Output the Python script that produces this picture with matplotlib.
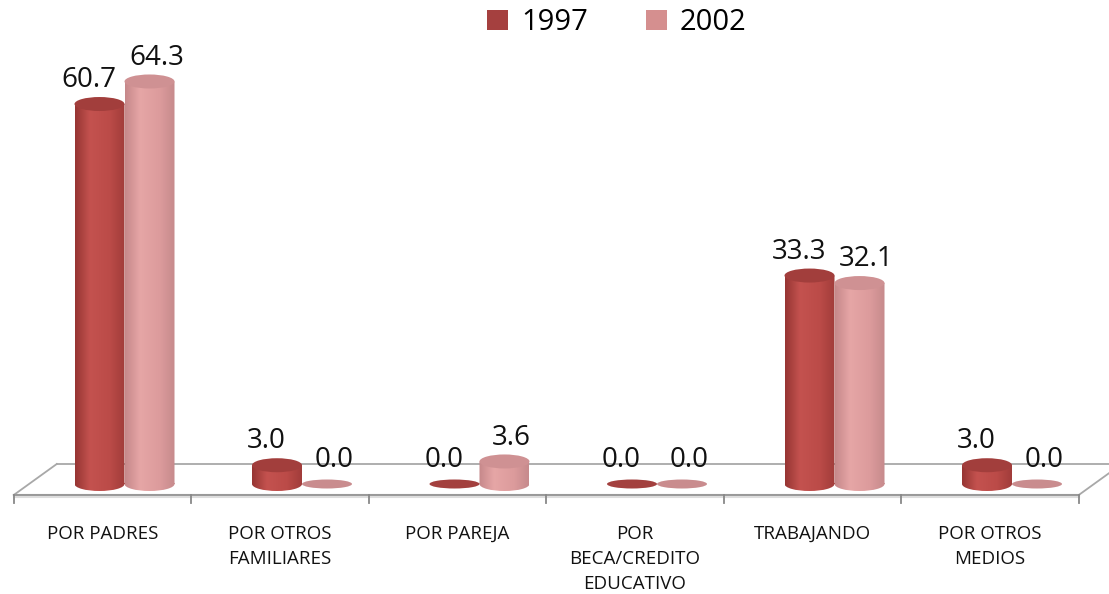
import numpy as np
import matplotlib
matplotlib.use('Agg')
import matplotlib.pyplot as plt
from matplotlib.patches import Ellipse, Rectangle, Polygon, Patch, PathPatch
from matplotlib.path import Path
from matplotlib.colors import to_rgb

plt.rcParams['font.family'] = ['Open Sans', 'DejaVu Sans']

# datos
categorias = ['POR PADRES', 'POR OTROS\nFAMILIARES', 'POR PAREJA',
              'POR\nBECA/CREDITO\nEDUCATIVO', 'TRABAJANDO', 'POR OTROS\nMEDIOS']
valores_1997 = [60.7, 3.0, 0.0, 0.0, 33.3, 3.0]
valores_2002 = [64.3, 0.0, 3.6, 0.0, 32.1, 0.0]
series = ['1997', '2002']

# colores del cilindro: borde izq, brillo, centro, borde der
col_1997 = ['#963533', '#c4524f', '#bb4b48', '#a13c3a']
col_2002 = ['#c5888a', '#e6a6a6', '#dc9b9c', '#c68a8c']
top_1997 = '#a23e3c'
top_2002 = '#cf9193'
cero_1997 = '#a3403e'
cero_2002 = '#c98c8e'
leg_1997 = '#a5403f'
leg_2002 = '#d58f8f'

W, H = 1109, 594
fig = plt.figure(figsize=(W / 100, H / 100), dpi=100)
ax = fig.add_axes([0, 0, 1, 1])
# eje: x en unidades de categoria, y en unidades de valor
px_cat = 177.5
px_val = 6.26
x_c0 = 102.5
y_0 = 484
ax.set_xlim((0 - x_c0) / px_cat, (W - x_c0) / px_cat)
ax.set_ylim(-(H - y_0) / px_val, y_0 / px_val)
ax.axis('off')

n = len(categorias)
dx = 43 / px_cat      # profundidad horizontal del piso
dy = 31 / px_val      # profundidad vertical del piso
front = -11 / px_val
back = front + dy

# piso
ax.add_patch(Polygon([(-0.5, front), (n - 0.5, front), (n - 0.5 + dx, back), (-0.5 + dx, back)],
                     closed=True, facecolor='white', edgecolor='none', zorder=0))
ax.plot([-0.5 + dx, n - 0.5 + dx], [back, back], color='#a8a8a8', lw=1.3, zorder=1)
ax.plot([-0.5, -0.5 + dx], [front, back], color='#a8a8a8', lw=1.3, zorder=1)
ax.plot([n - 0.5, n - 0.5 + dx], [front, back], color='#a8a8a8', lw=1.3, zorder=1)
ax.plot([-0.5, n - 0.5], [front, front], color='#999999', lw=1.5, zorder=1)
ax.plot([-0.5, n - 0.5], [front - 0.35, front - 0.35], color='#dddddd', lw=1.5, zorder=1)
for i in range(n + 1):
    ax.plot([i - 0.5, i - 0.5], [front, front - 1.2], color='#888888', lw=1.3, zorder=1)

bw = 50 / px_cat
eh = 14 / px_val
shift = 22 / px_cat


def cilindro(x, v, cols, top_col, cero_col, z):
    if v <= 0:
        ax.add_patch(Ellipse((x, 0), bw, 9 / px_val, facecolor=cero_col, edgecolor='none', zorder=z))
        return
    t = np.linspace(0, 1, 200)
    rgb = np.array([to_rgb(c) for c in cols])
    pos = [0, 0.3, 0.7, 1]
    grad = np.stack([np.interp(t, pos, rgb[:, k]) for k in range(3)], axis=-1)
    img = ax.imshow(grad[None, :, :], aspect='auto', extent=(x - bw / 2, x + bw / 2, -eh / 2, v),
                    zorder=z, interpolation='bilinear')
    body = Rectangle((x - bw / 2, 0), bw, v)
    bottom = Ellipse((x, 0), bw, eh)
    p = Path.make_compound_path(body.get_path().transformed(body.get_patch_transform()),
                                bottom.get_path().transformed(bottom.get_patch_transform()))
    clip = PathPatch(p, transform=ax.transData, facecolor='none', edgecolor='none')
    ax.add_patch(clip)
    img.set_clip_path(clip)
    ax.add_patch(Ellipse((x, v), bw, eh, facecolor=top_col, edgecolor='none', zorder=z + 0.1))


for i in range(n):
    c = i + shift
    x1 = c - bw / 2
    x2 = c + bw / 2
    cilindro(x1, valores_1997[i], col_1997, top_1997, cero_1997, 3)
    cilindro(x2, valores_2002[i], col_2002, top_2002, cero_2002, 4)
    ax.text(x1 - 0.06, valores_1997[i] + 2.7, f'{valores_1997[i]:.1f}', ha='center',
            va='baseline', fontsize=20, color='#111111', zorder=6)
    ax.text(x2 + 0.04, valores_2002[i] + 2.7, f'{valores_2002[i]:.1f}', ha='center',
            va='baseline', fontsize=20, color='#111111', zorder=6)
    ax.text(i, -(525 - y_0) / px_val, categorias[i], ha='center', va='top',
            fontsize=13.5, linespacing=1.5, color='#111111')

handles = [Patch(facecolor=leg_1997, label=series[0]), Patch(facecolor=leg_2002, label=series[1])]
fig.legend(handles=handles, loc='upper center', bbox_to_anchor=(617 / W, 1.0 + 18 / H), ncol=2,
           frameon=False, fontsize=21, handlelength=0.7, handleheight=0.7,
           handletextpad=0.45, columnspacing=2.0)

fig.savefig('out.png', dpi=100)
